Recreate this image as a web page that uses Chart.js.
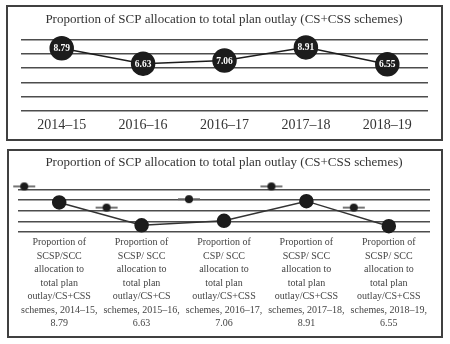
<!DOCTYPE html>
<html>
<head>
<meta charset="utf-8">
<script src="https://cdn.jsdelivr.net/npm/chart.js@4"></script>
<style>
    html, body { margin: 0; padding: 0; background: #fff; }
    body { width: 450px; height: 344px; position: relative; overflow: hidden; }
    .panel { position: absolute; box-sizing: border-box; border: 2px solid #404040; background: #fff; }
    #topPanel { left: 6px; top: 5px; width: 437px; height: 136px; }
    #bottomPanel { left: 7px; top: 149px; width: 436px; height: 189px; }
</style>
</head>
<body>
<div class="panel" id="topPanel"><canvas id="topChart"></canvas></div>
<div class="panel" id="bottomPanel"><canvas id="bottomChart"></canvas></div>

<script>
const TITLE = 'Proportion of SCP allocation to total plan outlay (CS+CSS schemes)';
const topLabels = ['2014–15', '2016–16', '2016–17', '2017–18', '2018–19'];
const shareValues = [8.79, 6.63, 7.06, 8.91, 6.55];

const bottomLabels = [
    ['Proportion of', 'SCSP/SCC', 'allocation to', 'total plan', 'outlay/CS+CSS', 'schemes, 2014–15,', '8.79'],
    ['Proportion of', 'SCSP/ SCC', 'allocation to', 'total plan', 'outlay/CS+CS', 'schemes, 2015–16,', '6.63'],
    ['Proportion of', 'CSP/ SCC', 'allocation to', 'total plan', 'outlay/CS+CSS', 'schemes, 2016–17,', '7.06'],
    ['Proportion of', 'SCSP/ SCC', 'allocation to', 'total plan', 'outlay/CS+CSS', 'schemes, 2017–18,', '8.91'],
    ['Proportion of', 'SCSP/ SCC', 'allocation to', 'total plan', 'outlay/CS+CSS', 'schemes, 2018–19,', '6.55']
];
const markerValues = [10.3, 8.3, 9.1, 10.3, 8.3];

const SERIF = '"Liberation Serif", "DejaVu Serif", serif';
const INK = '#1c1c1c';
const GRID = '#4d4d4d';

// white value text inside the big dots of the top chart
const valueLabels = {
    id: 'valueLabels',
    afterDatasetsDraw(chart) {
        const meta = chart.getDatasetMeta(0);
        const ctx = chart.ctx;
        ctx.save();
        ctx.fillStyle = '#fff';
        ctx.font = 'bold 9.5px ' + SERIF;
        ctx.textAlign = 'center';
        ctx.textBaseline = 'middle';
        meta.data.forEach((pt, i) => {
            ctx.fillText(chart.data.datasets[0].data[i].toFixed(2), pt.x, pt.y + 0.5);
        });
        ctx.restore();
    }
};

// small dot with a short grey dash, sitting left of its category
function makeMarker() {
    const c = document.createElement('canvas');
    c.width = 94; c.height = 10;
    const g = c.getContext('2d');
    const cx = 47 - 35;
    g.strokeStyle = '#666';
    g.lineWidth = 1.8;
    g.beginPath(); g.moveTo(cx - 11, 5); g.lineTo(cx + 11, 5); g.stroke();
    g.fillStyle = INK;
    g.beginPath(); g.arc(cx, 5, 4, 0, Math.PI * 2); g.fill();
    return c;
}

new Chart(document.getElementById('topChart'), {
    type: 'line',
    data: {
        labels: topLabels,
        datasets: [{
            data: shareValues,
            borderColor: INK,
            borderWidth: 1.5,
            pointRadius: 11.5,
            pointBackgroundColor: INK,
            pointBorderColor: INK,
            clip: false
        }]
    },
    options: {
        responsive: true,
        maintainAspectRatio: false,
        animation: false,
        layout: { padding: { left: 10, right: 11, top: 0, bottom: 5 } },
        plugins: {
            legend: { display: false },
            tooltip: { enabled: false },
            title: {
                display: true, text: TITLE, color: '#333',
                font: { family: SERIF, size: 13, weight: 'normal' },
                padding: { top: 5, bottom: 12 }
            }
        },
        scales: {
            x: {
                offset: true,
                grid: { display: false, drawTicks: false },
                border: { display: false },
                ticks: { color: '#333', font: { family: SERIF, size: 14 }, padding: 6 },
                afterFit(scale) { scale.height = 23; }
            },
            y: {
                min: 0, max: 10,
                ticks: { display: false, stepSize: 2 },
                border: { display: false },
                grid: { color: GRID, lineWidth: 1.5, drawTicks: false }
            }
        }
    },
    plugins: [valueLabels]
});

new Chart(document.getElementById('bottomChart'), {
    type: 'line',
    data: {
        labels: bottomLabels,
        datasets: [{
            data: shareValues,
            borderColor: '#333',
            borderWidth: 1.5,
            pointRadius: 6.5,
            pointBackgroundColor: INK,
            pointBorderColor: INK,
            clip: false
        }, {
            data: markerValues,
            showLine: false,
            pointStyle: makeMarker(),
            clip: false
        }]
    },
    options: {
        responsive: true,
        maintainAspectRatio: false,
        animation: false,
        layout: { padding: { left: 9, right: 11, top: 0, bottom: 4 } },
        plugins: {
            legend: { display: false },
            tooltip: { enabled: false },
            title: {
                display: true, text: TITLE, color: '#333',
                font: { family: SERIF, size: 13, weight: 'normal' },
                padding: { top: 4, bottom: 19 }
            }
        },
        scales: {
            x: {
                offset: true,
                grid: { display: false, drawTicks: false },
                border: { display: false },
                ticks: {
                    color: '#444', autoSkip: false, maxRotation: 0, padding: 4,
                    font: { family: SERIF, size: 10, lineHeight: 1.35 }
                },
                afterFit(scale) { scale.height = 100; }
            },
            y: {
                min: 6, max: 10,
                ticks: { display: false, stepSize: 1 },
                border: { display: false },
                grid: { color: GRID, lineWidth: 1.5, drawTicks: false }
            }
        }
    }
});
</script>
</body>
</html>
